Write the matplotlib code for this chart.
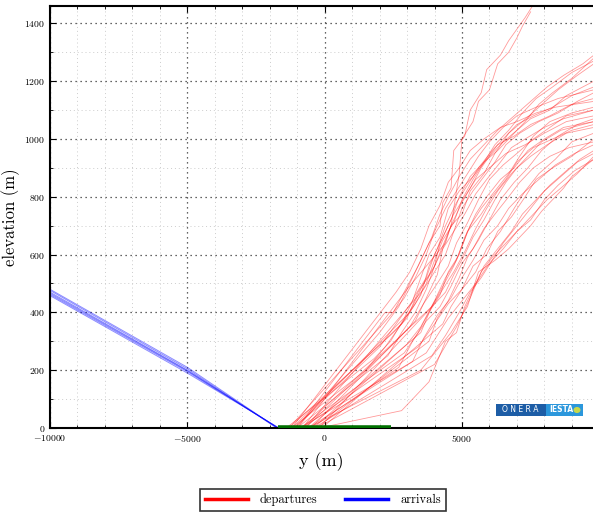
import matplotlib
matplotlib.use("Agg")
import matplotlib.pyplot as plt
from matplotlib.ticker import MultipleLocator
from matplotlib.lines import Line2D
from matplotlib.patches import Rectangle, Circle

plt.rcParams['font.family'] = 'serif'
plt.rcParams['font.serif'] = ['cmr10']
plt.rcParams['mathtext.fontset'] = 'cm'
plt.rcParams['axes.formatter.use_mathtext'] = True

# arrival tracks (y, elevation)
arr_x = [[-10000, -5000, -1700], [-10000, -5000, -1720], [-10000, -5000, -1680],
         [-10000, -5000, -1750], [-10000, -5000, -1660], [-10000, -5000, -1700]]
arr_y = [[470, 200, 0], [480, 210, 0], [462, 195, 0],
         [476, 205, 0], [458, 190, 0], [466, 198, 0]]

# departure tracks, each a list of (y, elevation) points
departures = [
    [(-1000, 0), (2200, 400), (2500, 400), (3400, 560), (3800, 640), (4200, 700), (4300, 780), (4600, 830), (4700, 960), (5100, 1010), (5300, 1100), (5700, 1160), (5900, 1240), (6400, 1290), (6700, 1340), (7000, 1380), (7300, 1420), (7700, 1480)],
    [(-800, 0), (3000, 480), (3700, 560), (4400, 640), (4600, 700), (4900, 880), (5000, 1000), (5400, 1060), (5600, 1130), (6000, 1170), (6300, 1260), (6700, 1300), (7000, 1350), (7200, 1390), (7500, 1440)],
    [(-1300, 0), (2500, 330), (3000, 380), (3400, 470), (3900, 540), (4300, 620), (4600, 700), (5000, 780), (5300, 830), (5700, 900), (6000, 940), (6500, 990), (7000, 1030), (7500, 1070), (8200, 1100), (8800, 1150), (9800, 1200)],
    [(-1200, 0), (2800, 360), (3200, 420), (3600, 500), (4000, 560), (4200, 640), (4600, 720), (4900, 800), (5300, 870), (5800, 920), (6300, 960), (6800, 1010), (7300, 1060), (7800, 1120), (8300, 1160), (9000, 1210), (9800, 1280)],
    [(-1100, 0), (2000, 280), (2600, 360), (3200, 440), (3500, 520), (3800, 600), (4200, 660), (4500, 760), (4900, 820), (5400, 870), (5900, 930), (6300, 980), (6900, 1010), (7500, 1050), (8200, 1080), (9000, 1120), (9800, 1140)],
    [(-700, 0), (2600, 300), (3100, 350), (3600, 430), (4100, 500), (4500, 560), (4800, 640), (5200, 710), (5600, 790), (6000, 860), (6500, 910), (7000, 950), (7600, 1000), (8200, 1040), (8800, 1080), (9800, 1100)],
    [(-500, 0), (3300, 370), (3700, 450), (4100, 530), (4300, 620), (4700, 680), (5000, 760), (5400, 820), (5800, 870), (6200, 920), (6600, 980), (7100, 1020), (7800, 1060), (8500, 1090), (9200, 1130), (9800, 1160)],
    [(-1400, 0), (1800, 240), (2400, 300), (2900, 380), (3300, 460), (3700, 520), (4000, 600), (4400, 680), (4700, 740), (5100, 800), (5500, 860), (6000, 900), (6600, 950), (7300, 980), (8000, 1020), (8800, 1060), (9800, 1080)],
    [(-600, 0), (3500, 330), (3900, 420), (4300, 490), (4700, 560), (5000, 630), (5300, 700), (5700, 760), (6200, 820), (6700, 880), (7100, 940), (7600, 1010), (8200, 1060), (9000, 1090), (9800, 1110)],
    [(-300, 0), (3800, 300), (4100, 380), (4500, 440), (4900, 520), (5200, 590), (5600, 650), (6000, 720), (6400, 790), (6900, 850), (7400, 900), (7900, 960), (8500, 1010), (9200, 1050), (9800, 1070)],
    [(-1000, 0), (2300, 250), (2800, 330), (3300, 400), (3700, 480), (4000, 560), (4300, 630), (4600, 700), (5000, 740), (5300, 820), (5800, 880), (6200, 950), (6700, 1020), (7200, 1060), (7800, 1110), (8500, 1170), (9200, 1220), (9800, 1260)],
    [(-900, 0), (2900, 260), (3400, 330), (3800, 400), (4200, 460), (4500, 540), (4900, 600), (5200, 680), (5700, 740), (6100, 800), (6600, 860), (7000, 920), (7600, 970), (8300, 1000), (9000, 1030), (9800, 1050)],
    [(-200, 0), (2800, 60), (3800, 160), (4400, 300), (4800, 330), (5100, 420), (5500, 500), (5800, 560), (6300, 620), (6800, 680), (7200, 740), (7700, 790), (8200, 840), (8800, 890), (9300, 930), (9800, 960)],
    [(-400, 0), (3900, 250), (4400, 320), (4900, 400), (5300, 470), (5700, 520), (6100, 580), (6500, 640), (7000, 700), (7500, 760), (8000, 820), (8600, 870), (9200, 920), (9800, 950)],
    [(-800, 0), (3400, 280), (4000, 360), (4500, 430), (5000, 480), (5400, 560), (5900, 600), (6300, 680), (6800, 730), (7300, 800), (7700, 860), (8300, 900), (9000, 940), (9800, 1000)],
    [(-100, 0), (4300, 360), (4600, 420), (5000, 480), (5500, 540), (5900, 620), (6400, 680), (6900, 760), (7300, 820), (7800, 880), (8400, 930), (9000, 990), (9800, 1020)],
    [(-600, 0), (3500, 200), (4600, 330), (5200, 420), (5600, 540), (6200, 580), (6700, 620), (7100, 660), (7500, 700), (7900, 750), (8300, 790), (8700, 830), (9000, 870), (9400, 900), (9800, 930)],
    [(-1200, 0), (1500, 200), (2200, 280), (2800, 360), (3300, 430), (3700, 500), (4000, 580), (4300, 650), (4700, 710), (5000, 790), (5400, 860), (5800, 920), (6200, 980), (6700, 1030), (7200, 1090), (7700, 1140), (8300, 1180), (9000, 1230), (9800, 1270)],
    [(-1100, 0), (3100, 400), (3500, 460), (3800, 560), (4100, 620), (4400, 700), (4800, 780), (5200, 840), (5600, 900), (6100, 960), (6500, 1000), (7000, 1050), (7600, 1080), (8300, 1110), (9000, 1150), (9800, 1180)],
    [(-700, 0), (3600, 480), (4000, 540), (4400, 600), (4700, 680), (5100, 740), (5500, 810), (5900, 860), (6400, 920), (6800, 970), (7300, 1000), (8000, 1040), (8700, 1070), (9800, 1100)],
    [(-200, 0), (4400, 470), (4700, 530), (5100, 600), (5400, 660), (5800, 720), (6200, 790), (6600, 850), (7000, 900), (7500, 940), (8100, 980), (8800, 1020), (9800, 1040)],
    [(-1300, 0), (2400, 390), (2900, 450), (3300, 520), (3700, 600), (4000, 680), (4400, 760), (4800, 820), (5200, 880), (5600, 940), (6000, 990), (6500, 1040), (7000, 1080), (7700, 1110), (8500, 1140), (9800, 1170)],
    [(-500, 0), (2700, 210), (3200, 300), (3700, 370), (4200, 420), (4600, 490), (5000, 570), (5400, 620), (5800, 690), (6200, 740), (6700, 800), (7100, 850), (7600, 900), (8200, 940), (8900, 970), (9800, 990)],
    [(-900, 0), (3200, 230), (3600, 310), (4100, 390), (4600, 450), (5000, 520), (5400, 580), (5800, 650), (6300, 700), (6700, 760), (7200, 810), (7800, 860), (8400, 910), (9100, 950), (9800, 980)],
    [(-1000, 0), (2000, 330), (2700, 420), (3200, 520), (3500, 580), (3900, 660), (4200, 740), (4500, 800), (4900, 870), (5300, 930), (5800, 980), (6300, 1030), (6900, 1080), (7500, 1130), (8100, 1180), (8700, 1220), (9400, 1260), (9800, 1290)],
    [(-400, 0), (3000, 290), (3500, 350), (4000, 440), (4400, 520), (4800, 580), (5100, 660), (5500, 740), (5900, 800), (6400, 860), (6900, 900), (7400, 960), (8000, 1000), (8700, 1040), (9800, 1060)],
    [(-1200, 0), (2600, 470), (3100, 540), (3500, 620), (3800, 700), (4200, 770), (4500, 850), (4900, 900), (5300, 960), (5800, 1000), (6400, 1040), (7000, 1060), (7700, 1090), (8400, 1110), (9800, 1130)],
    [(-800, 0), (3900, 420), (4300, 480), (4700, 540), (5100, 610), (5500, 690), (5900, 760), (6300, 820), (6800, 880), (7300, 930), (7900, 990), (8600, 1030), (9800, 1060)],
    [(-300, 0), (4000, 220), (4800, 350), (5300, 450), (5700, 540), (6100, 590), (6600, 640), (7100, 690), (7600, 740), (8100, 790), (8600, 830), (9200, 880), (9800, 940)],
    [(-600, 0), (3700, 260), (4500, 380), (5000, 440), (5500, 500), (6000, 570), (6500, 620), (7000, 680), (7500, 720), (8000, 790), (8500, 840), (9100, 890), (9800, 930)],
]

runway_x = [-1710, 2430]

fig = plt.figure(figsize=(5.93, 5.16), dpi=100)
ax = fig.add_axes([50 / 593, 88 / 516, 543 / 593, 422 / 516])

for xs, ys in zip(arr_x, arr_y):
    ax.plot(xs, ys, color='blue', lw=0.7, alpha=0.45)

for track in departures:
    xs = [p[0] for p in track]
    ys = [p[1] for p in track]
    ax.plot(xs, ys, color='red', lw=0.6, alpha=0.4)

ax.plot(runway_x, [0, 0], color='#007000', lw=4, solid_capstyle='butt', zorder=5)

ax.set_xlim(-10000, 9770)
ax.set_ylim(0, 1460)
ax.xaxis.set_major_locator(MultipleLocator(5000))
ax.xaxis.set_minor_locator(MultipleLocator(1000))
ax.yaxis.set_major_locator(MultipleLocator(200))
ax.yaxis.set_minor_locator(MultipleLocator(100))
ax.grid(which='major', ls=(0, (1, 3)), color='#333333', lw=0.9)
ax.grid(which='minor', ls=(0, (1, 3)), color='#cccccc', lw=0.7)
ax.set_axisbelow(True)
ax.tick_params(which='both', direction='in', top=True, labelsize=7)
ax.tick_params(which='major', length=4)
ax.tick_params(which='minor', length=2)
for s in ['left', 'top', 'bottom']:
    ax.spines[s].set_linewidth(1.5)
ax.spines['right'].set_visible(False)

ax.set_xlabel('y (m)', fontsize=13, labelpad=6)
ax.set_ylabel('elevation (m)', fontsize=12, labelpad=3)

handles = [Line2D([], [], color='red', lw=2.5), Line2D([], [], color='blue', lw=2.5)]
fig.legend(handles, ['departures', 'arrivals'], loc='center', bbox_to_anchor=(323 / 593, 16 / 516),
           ncol=2, fontsize=9, frameon=True, fancybox=False, edgecolor='black',
           handlelength=3.4, handletextpad=1.0, columnspacing=2.2, borderpad=0.4)
fig.legends[0].get_frame().set_linewidth(1.2)

# ONERA / IESTA logo
fig.patches.append(Rectangle((496 / 593, 100 / 516), 50 / 593, 12 / 516, transform=fig.transFigure,
                             facecolor='#1d5da6', edgecolor='none', zorder=10))
fig.patches.append(Rectangle((546 / 593, 100 / 516), 37 / 593, 12 / 516, transform=fig.transFigure,
                             facecolor='#2b97dc', edgecolor='none', zorder=10))
fig.patches.append(Circle((577 / 593, 106 / 516), 3.5 / 593, transform=fig.transFigure,
                          facecolor='#c8d84a', edgecolor='none', zorder=11))
fig.text(520 / 593, 106 / 516, 'O N E R A', color='white', fontsize=5.5, ha='center', va='center',
         family='DejaVu Sans', zorder=12)
fig.text(561 / 593, 106 / 516, 'IESTA', color='white', fontsize=5.5, ha='center', va='center',
         family='DejaVu Sans', weight='bold', zorder=12)

fig.savefig('out.png', dpi=100)
